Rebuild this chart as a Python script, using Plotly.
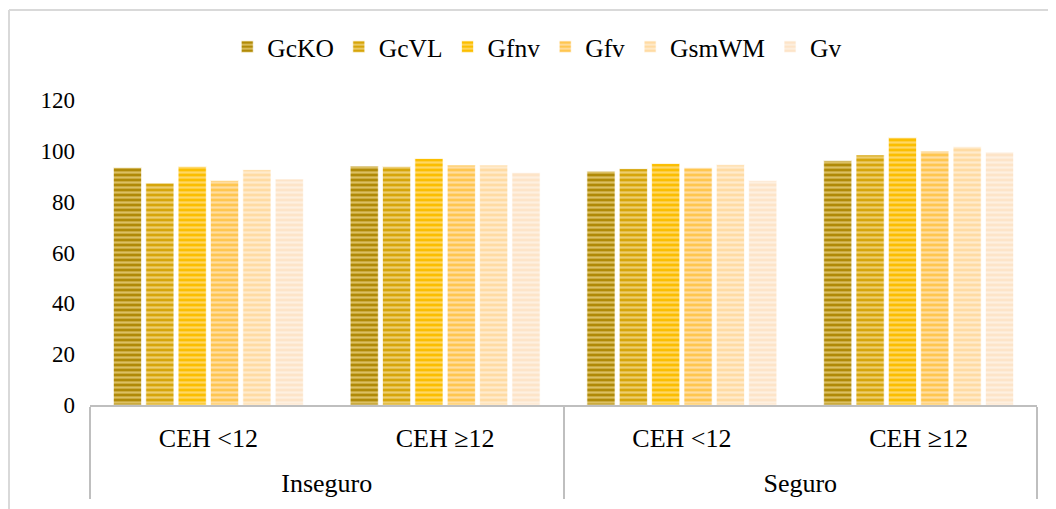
import plotly.graph_objects as go

# Data
groups = ["Inseguro", "Inseguro", "Seguro", "Seguro"]
subgroups = ["CEH <12", "CEH ≥12", "CEH <12", "CEH ≥12"]
series_names = ["GcKO", "GcVL", "Gfnv", "Gfv", "GsmWM", "Gv"]
GcKO = [93.4, 94.0, 92.0, 96.1]
GcVL = [87.3, 93.8, 93.0, 98.4]
Gfnv = [93.8, 97.0, 95.0, 105.2]
Gfv = [88.3, 94.4, 93.3, 99.9]
GsmWM = [92.6, 94.4, 94.5, 101.6]
Gv = [88.9, 91.5, 88.3, 99.5]
y_ticks = [0, 20, 40, 60, 80, 100, 120]

values = [GcKO, GcVL, Gfnv, Gfv, GsmWM, Gv]
bg_colors = ["#B08A08", "#D6A50A", "#FBBE00", "#FFC64F", "#FFDBA3", "#FDE4C8"]
fg_colors = ["#DCC062", "#EDCD6E", "#FFD763", "#FFDDA0", "#FFEBCD", "#FEF0E0"]

LABEL_PX = 26
SPACER = "<br><span style='font-size:8px;color:rgba(0,0,0,0)'>.</span>"
# Styled label text; an invisible second line sets the spacing of the levels
inner_labels = [f"<span style='font-size:{LABEL_PX}px'>{s}</span>{SPACER}" for s in subgroups]
outer_labels = [f"<span style='font-size:{LABEL_PX}px'>{g}</span>" for g in groups]

# The page adds an 8px body margin around the figure
W, H = 1048, 501
ML, MR, MT, MB = 82, 19, 92, 104

fig = go.Figure()
for name, vals, bg, fg in zip(series_names, values, bg_colors, fg_colors):
    fig.add_trace(go.Bar(
        name=name,
        x=[outer_labels, inner_labels],
        y=vals,
        marker=dict(
            color=bg,
            line=dict(color="rgba(255,255,255,0.7)", width=1),
            pattern=dict(shape="-", bgcolor=bg, fgcolor=fg, size=5, solidity=0.45, fillmode="replace"),
        ),
    ))

font_family = "Liberation Serif, Times New Roman, serif"

fig.update_layout(
    width=W, height=H,
    margin=dict(l=ML, r=MR, t=MT, b=MB, autoexpand=False),
    paper_bgcolor="white",
    plot_bgcolor="white",
    barmode="group",
    bargap=0.18,
    bargroupgap=0.13,
    font=dict(family=font_family, size=22, color="black"),
    legend=dict(
        orientation="h",
        xref="container", yref="container",
        x=0.505, y=0.922, xanchor="center", yanchor="middle",
        font=dict(size=25.5, family=font_family, color="black"),
        itemwidth=30,
        traceorder="normal",
    ),
    xaxis=dict(
        type="multicategory",
        automargin=False,
        showline=True, linecolor="#BFBFBF", linewidth=2,
        showdividers=True, dividercolor="#BFBFBF", dividerwidth=2,
        tickfont=dict(size=23, family=font_family, color="black"),
        ticklabelstandoff=12,
        showgrid=False,
        range=[-0.5, 3.5],
    ),
    yaxis=dict(
        range=[0, 120],
        automargin=False,
        tickvals=y_ticks,
        showgrid=False,
        zeroline=False,
        showline=False,
        tickfont=dict(size=23, family=font_family, color="black"),
        ticklabelstandoff=14,
    ),
)

# Chart-area frame (top and left edges visible in the reference)
plot_w = W - ML - MR
plot_h = H - MT - MB
def px_x(px):
    return (px - ML) / plot_w
def px_y(py):
    return (H - MB - py) / plot_h

fig.add_shape(type="line", xref="paper", yref="paper",
              x0=px_x(1), x1=px_x(W + 5), y0=px_y(2), y1=px_y(2),
              line=dict(color="#D9D9D9", width=2))
fig.add_shape(type="line", xref="paper", yref="paper",
              x0=px_x(1), x1=px_x(1), y0=px_y(2), y1=px_y(H + 5),
              line=dict(color="#D9D9D9", width=2))

fig.write_html("out.html")
